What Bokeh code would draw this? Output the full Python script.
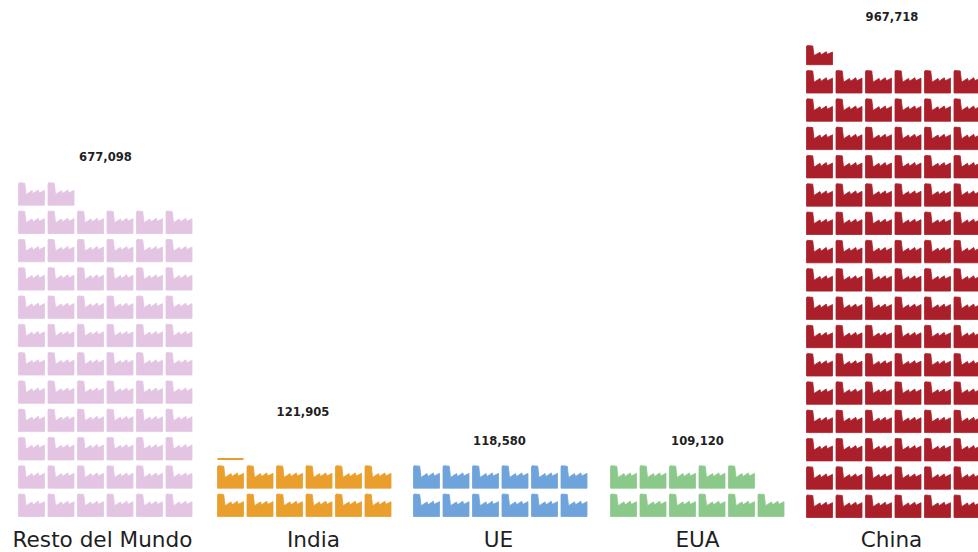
from bokeh.plotting import figure
from bokeh.models import Range1d
from bokeh.embed import file_html
from bokeh.resources import INLINE
from bokeh.core.properties import value

categories = ["Resto del Mundo", "India", "UE", "EUA", "China"]
values = [677098, 121905, 118580, 109120, 967718]
value_labels = ["677,098", "121,905", "118,580", "109,120", "967,718"]
icons_full = [68, 12, 12, 11, 97]
colors = ["#e3c5e3", "#ea9e2c", "#6fa3dc", "#8bc98a", "#aa1f29"]
start_x = [18, 217, 413, 610, 806]
label_cx = [102, 313, 498, 697, 891]
value_cx = [105, 302.5, 499, 697, 891.5]
value_cy = [156, 411, 440, 440, 16]
label_cy = [539, 539, 539, 539, 539]
bottoms = [516, 516, 516, 516, 517]
last_icon_scale = [1, 1, 1, 1, 0.85]

COLS = 6
PITCH_X = 29.5
PITCH_Y = 28.3
W = 26
H = 22.5

# factory silhouette in unit coordinates (x to the right, y downward from the icon's top)
shape_x = [0, .03, .24, .29, .52, .56, .76, .80, 1, 1, 0]
shape_y = [.03, 0, .02, .52, .35, .48, .32, .46, .34, 1, 1]

p = figure(width=978, height=552, output_backend="svg", toolbar_location=None,
           x_range=Range1d(0, 978), y_range=Range1d(552, 0), min_border=0,
           outline_line_color=None, background_fill_color="white")
p.axis.visible = False
p.grid.visible = False

for n, col, sx, bot, scale in zip(icons_full, colors, start_x, bottoms, last_icon_scale):
    xs, ys = [], []
    for i in range(n):
        c = i % COLS
        r = i // COLS
        x0 = sx + c * PITCH_X
        y1 = bot - r * PITCH_Y
        h = H * (scale if i == n - 1 else 1)
        xs.append([x0 + W * u for u in shape_x])
        ys.append([y1 - h + h * v for v in shape_y])
    p.patches(xs, ys, fill_color=col, line_color=col, line_width=0.8)

# India: the remaining fraction shows as a thin sliver at the foot of the next row
india = categories.index("India")
sliver_foot = bottoms[india] - 2 * PITCH_Y
p.quad(left=[start_x[india]], right=[start_x[india] + W],
       top=[sliver_foot - 2], bottom=[sliver_foot],
       fill_color=colors[india], line_color=None)

p.text(value_cx, value_cy, text=value_labels, text_font=value("DejaVu Sans"),
       text_font_style="bold", text_font_size="11.6px", text_align="center",
       text_baseline="middle", text_color="#1f1f1f")
p.text(label_cx, label_cy, text=categories, text_font=value("DejaVu Sans"),
       text_font_size="21.6px", text_align="center", text_baseline="middle",
       text_color="#1f1f1f")

open("out.html", "w").write(file_html(p, INLINE))
